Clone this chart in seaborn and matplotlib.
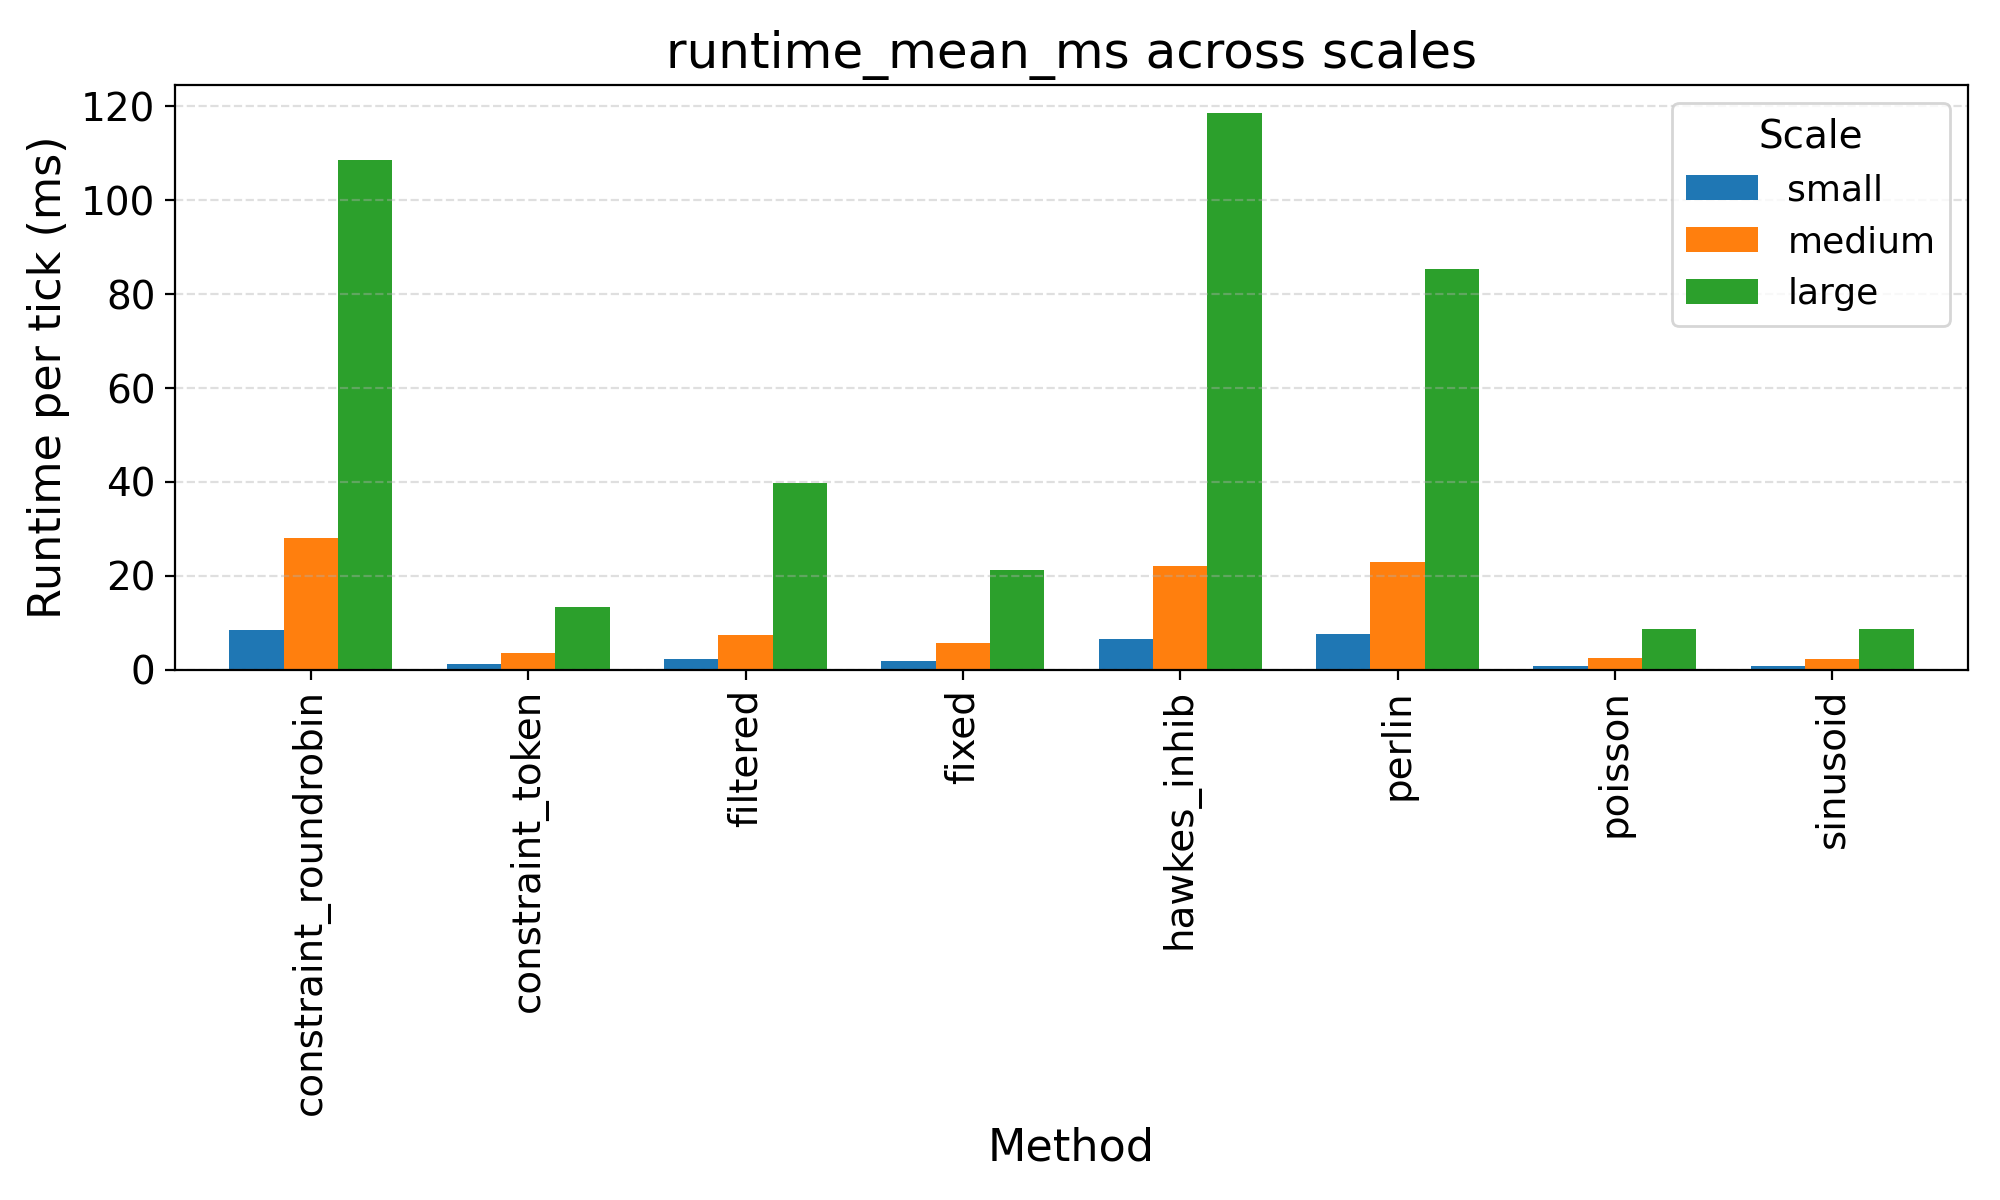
import numpy as np
import pandas as pd
import seaborn as sns
import matplotlib.pyplot as plt

methods = ["constraint_roundrobin", "constraint_token", "filtered", "fixed",
           "hawkes_inhib", "perlin", "poisson", "sinusoid"]
scales = ["small", "medium", "large"]
small = [8.4, 1.15, 2.2, 1.8, 6.5, 7.55, 0.75, 0.75]
medium = [28.0, 3.5, 7.35, 5.65, 22.1, 22.9, 2.45, 2.25]
large = [108.6, 13.3, 39.8, 21.2, 118.7, 85.3, 8.65, 8.65]
colors = ["#1f77b4", "#ff7f0e", "#2ca02c"]

rows = []
for s, vals in zip(scales, [small, medium, large]):
    for m, v in zip(methods, vals):
        rows.append({"Method": m, "Scale": s, "runtime_mean_ms": v})
df = pd.DataFrame(rows)

fig, ax = plt.subplots(figsize=(10, 6), dpi=200)
sns.barplot(data=df, x="Method", y="runtime_mean_ms", hue="Scale",
            order=methods, hue_order=scales, palette=colors,
            width=0.75, saturation=1, errorbar=None, linewidth=0, ax=ax)

ax.set_xlim(-0.625, len(methods) - 0.375)
ax.set_ylim(0, max(large) * 1.05)
ax.grid(axis="y", linestyle="--", alpha=0.4)
ax.set_title("runtime_mean_ms across scales", fontsize=18)
ax.set_xlabel("Method", fontsize=16)
ax.set_ylabel("Runtime per tick (ms)", fontsize=16)
ax.tick_params(axis="both", labelsize=14)
ax.tick_params(axis="x", labelrotation=90)

handles, labels = ax.get_legend_handles_labels()
ax.legend(handles, labels, title="Scale", loc="upper right",
          fontsize=13, title_fontsize=14)

fig.subplots_adjust(left=0.0875, right=0.984, bottom=0.442, top=0.9294)
fig.savefig("out.png", dpi=200)
